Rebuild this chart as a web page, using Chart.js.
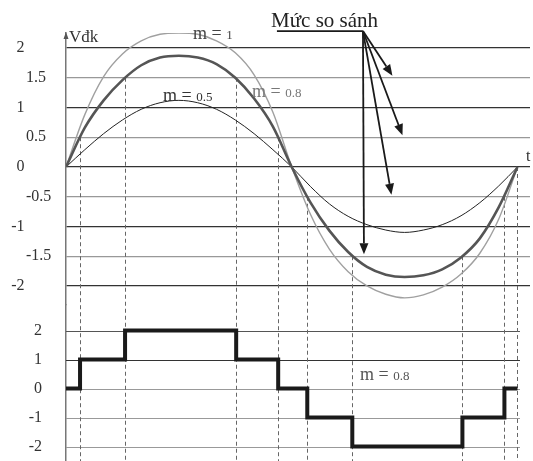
<!DOCTYPE html>
<html><head><meta charset="utf-8">
<script src="https://cdn.jsdelivr.net/npm/chart.js@4.4.0/dist/chart.umd.min.js"></script>
<style>html,body{margin:0;padding:0;background:#fff}canvas{display:block}</style>
</head><body>
<canvas id="c" width="533" height="461"></canvas>
<script>
// phase angle (degrees) of the samples
const phase = [0,15,30,45,60,75,90,105,120,135,150,165,180,195,210,225,240,255,270,285,300,315,330,345,360];
const m1  = [0,0.88,1.52,1.9,2.12,2.23,2.25,2.23,2.12,1.92,1.55,0.92,0,-0.8,-1.38,-1.76,-2.0,-2.14,-2.2,-2.15,-2.02,-1.8,-1.45,-0.88,0];
const m08 = [0,0.66,1.12,1.46,1.71,1.84,1.87,1.84,1.73,1.5,1.15,0.68,0,-0.6,-1.07,-1.43,-1.68,-1.81,-1.85,-1.82,-1.72,-1.52,-1.2,-0.68,0];
const m05 = [0,0.29,0.56,0.79,0.97,1.08,1.12,1.08,0.97,0.79,0.56,0.29,0,-0.33,-0.62,-0.83,-0.97,-1.06,-1.1,-1.06,-0.97,-0.82,-0.6,-0.32,0];
// switching instants (degrees), comparison level hit there, output level after switching
const switchPhase = [0,11.2,47.1,135.7,169.2,192.4,228.3,316.1,349.6,360];
const switchLevel = [0,0.5,1.5,1.5,0.5,-0.5,-1.5,-1.5,-0.5,0];
const outLevel    = [0,1,2,1,0,-1,-2,-1,0,0];
const compareLevels = [1.5,0.5,-0.5,-1.5];
const arrowPhase = [260.3,268.3,259.5,237.6];
const topTicks = [2,1.5,1,0.5,0,-0.5,-1,-1.5,-2];
const topTickLabels = ['2','1.5','1','0.5','0','-0.5','-1','-1.5','-2'];
const botTicks = [2,1,0,-1,-2];
const botTickLabels = ['2','1','0','-1','-2'];

const pts = arr => phase.map((p,i)=>({x:p,y:arr[i]}));
const SERIF = '"Liberation Serif","DejaVu Serif",serif';

const overlay = {
  id:'overlay',
  beforeDatasetsDraw(chart){
    const {ctx, chartArea:a} = chart;
    const x = chart.scales.x, y = chart.scales.y, y2 = chart.scales.y2;
    ctx.save();
    botTicks.forEach(v=>{
      const py = Math.round(y2.getPixelForValue(v))+0.5;
      ctx.strokeStyle = v>=1 ? (v===2?'#555':'#333') : '#999';
      ctx.lineWidth = 1.2;
      ctx.beginPath(); ctx.moveTo(a.left, py); ctx.lineTo(x.getPixelForValue(362), py); ctx.stroke();
    });
    ctx.setLineDash([4,3]);
    ctx.lineWidth = 1;
    ctx.strokeStyle = '#666';
    for (let i=1;i<switchPhase.length;i++){
      const px = Math.round(x.getPixelForValue(switchPhase[i]))+0.5;
      ctx.beginPath(); ctx.moveTo(px, y.getPixelForValue(switchLevel[i])); ctx.lineTo(px, a.bottom); ctx.stroke();
    }
    ctx.restore();
  },
  afterDatasetsDraw(chart){
    const {ctx, chartArea:a} = chart;
    const x = chart.scales.x, y = chart.scales.y, y2 = chart.scales.y2;
    ctx.save();
    ctx.fillStyle = '#555';
    ctx.beginPath(); ctx.moveTo(a.left, a.top-1); ctx.lineTo(a.left-2.5, a.top+6); ctx.lineTo(a.left+2.5, a.top+6); ctx.closePath(); ctx.fill();
    ctx.fillStyle = '#333';
    ctx.font = '16px '+SERIF;
    ctx.textBaseline = 'middle';
    topTicks.forEach((v,i)=>{
      const py = y.getPixelForValue(v);
      if (Number.isInteger(v)) { ctx.textAlign='right'; ctx.fillText(topTickLabels[i], 24.5, py); }
      else { ctx.textAlign='left'; ctx.fillText(topTickLabels[i], 26, py); }
    });
    botTicks.forEach((v,i)=>{
      ctx.textAlign='right'; ctx.fillText(botTickLabels[i], 42, y2.getPixelForValue(v));
    });
    ctx.textBaseline = 'alphabetic';
    ctx.textAlign = 'left';
    ctx.font = '17px '+SERIF; ctx.fillStyle='#333';
    ctx.fillText('Vđk', 69, 42);
    ctx.font = '16px '+SERIF;
    ctx.fillText('t', 526, 161);
    const mText = (px, base, num, color) => {
      ctx.fillStyle = color;
      ctx.font = '18px '+SERIF;
      ctx.fillText('m =', px, base);
      const w = ctx.measureText('m = ').width;
      ctx.font = '13px '+SERIF;
      ctx.fillText(num, px+w, base);
    };
    mText(193, 39, '1', '#444');
    mText(163, 101, '0.5', '#333');
    mText(252, 97, '0.8', '#777');
    mText(360, 380, '0.8', '#555');
    ctx.font = '21px '+SERIF; ctx.fillStyle = '#222';
    ctx.fillText('Mức so sánh', 271, 27);
    const ox = x.getPixelForValue(236.8), oy = y.getPixelForValue(2.285);
    ctx.strokeStyle = '#1a1a1a'; ctx.fillStyle = '#1a1a1a'; ctx.lineWidth = 1.8;
    ctx.beginPath(); ctx.moveTo(x.getPixelForValue(168.2), oy); ctx.lineTo(ox, oy); ctx.stroke();
    compareLevels.forEach((lv,i)=>{
      const tx = x.getPixelForValue(arrowPhase[i]);
      const ty = y.getPixelForValue(lv) - 2;
      const ang = Math.atan2(ty-oy, tx-ox);
      const L = 11, W = 4.5;
      const bx = tx - L*Math.cos(ang), by = ty - L*Math.sin(ang);
      ctx.beginPath(); ctx.moveTo(ox, oy); ctx.lineTo(bx, by); ctx.stroke();
      ctx.beginPath();
      ctx.moveTo(tx, ty);
      ctx.lineTo(bx + W*Math.sin(ang), by - W*Math.cos(ang));
      ctx.lineTo(bx - W*Math.sin(ang), by + W*Math.cos(ang));
      ctx.closePath(); ctx.fill();
    });
    ctx.restore();
  }
};

new Chart(document.getElementById('c'), {
  type:'line',
  data:{
    datasets:[
      {label:'out', data: switchPhase.map((p,i)=>({x:p,y:outLevel[i]})), yAxisID:'y2', stepped:'before',
       borderColor:'#1a1a1a', borderWidth:4, pointRadius:0, fill:false},
      {label:'m=0.8', data: pts(m08), yAxisID:'y', borderColor:'#555', borderWidth:2.6, pointRadius:0, cubicInterpolationMode:'monotone'},
      {label:'m=0.5', data: pts(m05), yAxisID:'y', borderColor:'#222', borderWidth:1, pointRadius:0, cubicInterpolationMode:'monotone'},
      {label:'m=1', data: pts(m1), yAxisID:'y', borderColor:'#a0a0a0', borderWidth:1.4, pointRadius:0, cubicInterpolationMode:'monotone'}
    ]
  },
  options:{
    responsive:false, animation:false,
    layout:{padding:{top:33,right:3,bottom:0,left:0}},
    plugins:{legend:{display:false}, tooltip:{enabled:false}},
    scales:{
      x:{type:'linear', min:0, max:370, display:false},
      y2:{type:'linear', position:'left', stack:'v', stackWeight:156, min:-2.5, max:2.88,
         afterBuildTicks: s => { s.ticks = botTicks.map(v=>({value:v})); },
         afterFit: s => { s.width = 66; },
         ticks:{display:false},
         grid:{display:false},
         border:{display:true, color:'#777', width:1.5}},
      y:{type:'linear', position:'left', stack:'v', stackWeight:272, min:-2.32, max:2.252,
         afterBuildTicks: s => { s.ticks = topTicks.map(v=>({value:v})); },
         afterFit: s => { s.width = 66; },
         ticks:{display:false},
         grid:{drawTicks:false, lineWidth:1.2, color: c => Number.isInteger(c.tick.value) ? '#333' : '#999'},
         border:{display:true, color:'#777', width:1.5}}
    }
  },
  plugins:[overlay]
});
</script>
</body></html>
